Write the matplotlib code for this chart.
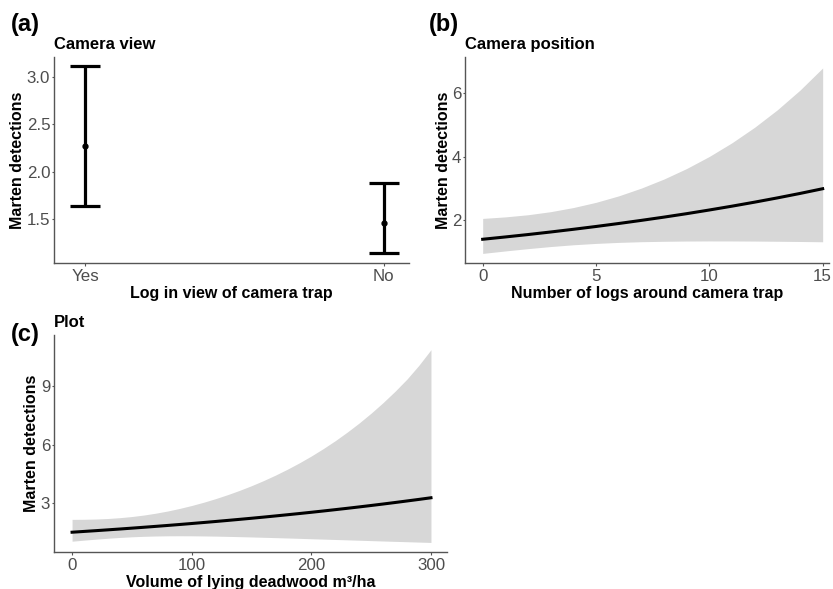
import matplotlib
matplotlib.use("Agg")
import matplotlib.pyplot as plt

plt.rcParams['font.family'] = ['Liberation Sans', 'DejaVu Sans']

# (a) Camera view
cat_labels = ["Yes", "No"]
cat_mean = [2.27, 1.465]
cat_low = [1.645, 1.142]
cat_high = [3.12, 1.878]

# (b) Camera position
logs_x = [0, 1, 2, 3, 4, 5, 6, 7, 8, 9, 10, 11, 12, 13, 14, 15]
logs_mean = [1.390, 1.463, 1.539, 1.620, 1.705, 1.794, 1.888, 1.987, 2.090, 2.199,
             2.315, 2.436, 2.563, 2.697, 2.838, 2.987]
logs_low = [0.943, 1.021, 1.094, 1.160, 1.216, 1.259, 1.291, 1.313, 1.326, 1.334,
            1.337, 1.336, 1.333, 1.327, 1.320, 1.311]
logs_high = [2.049, 2.097, 2.165, 2.262, 2.392, 2.557, 2.761, 3.007, 3.294, 3.626,
             4.007, 4.440, 4.930, 5.481, 6.103, 6.803]

# (c) Plot
dw_x = [0, 10, 20, 30, 40, 50, 60, 70, 80, 90, 100, 110, 120, 130, 140, 150,
        160, 170, 180, 190, 200, 210, 220, 230, 240, 250, 260, 270, 280, 290, 300]
dw_mean = [1.530, 1.570, 1.610, 1.652, 1.694, 1.738, 1.783, 1.829, 1.876, 1.925,
           1.975, 2.026, 2.078, 2.132, 2.187, 2.243, 2.301, 2.361, 2.422, 2.484,
           2.548, 2.614, 2.682, 2.751, 2.822, 2.895, 2.970, 3.047, 3.126, 3.206, 3.289]
dw_low = [1.071, 1.125, 1.176, 1.223, 1.263, 1.296, 1.321, 1.337, 1.347, 1.349,
          1.347, 1.340, 1.331, 1.318, 1.304, 1.288, 1.271, 1.254, 1.236, 1.217,
          1.197, 1.178, 1.159, 1.140, 1.121, 1.101, 1.082, 1.063, 1.045, 1.026, 1.008]
dw_high = [2.186, 2.190, 2.204, 2.231, 2.273, 2.331, 2.407, 2.502, 2.614, 2.746,
           2.895, 3.061, 3.245, 3.447, 3.667, 3.906, 4.165, 4.445, 4.747, 5.072,
           5.422, 5.800, 6.204, 6.641, 7.108, 7.611, 8.150, 8.728, 9.352, 10.06, 10.85]

W, H = 833, 589
fig = plt.figure(figsize=(W / 100, H / 100), dpi=100)

def ax_px(l, t, r, b):
    return fig.add_axes([l / W, 1 - b / H, (r - l) / W, (b - t) / H])

spine_col = "#555555"
tick_col = "#4D4D4D"
band_col = "#D7D7D7"

def style(ax):
    for s in ["top", "right"]:
        ax.spines[s].set_visible(False)
    for s in ["left", "bottom"]:
        ax.spines[s].set_color(spine_col)
        ax.spines[s].set_linewidth(1.0)
    ax.tick_params(colors=spine_col, labelcolor=tick_col, labelsize=12.2,
                   length=1.8, width=0.8, pad=0.9)
    ax.tick_params(axis="x", length=2.2, pad=2.2)

lab_kw = dict(fontsize=11.5, fontweight="bold", color="black")
title_kw = dict(fontsize=12, fontweight="bold", color="black", loc="left", pad=6)

# Panel (a)
axa = ax_px(54, 57, 409, 263)
style(axa)
pos = [1, 2]
yerr = [[m - l for m, l in zip(cat_mean, cat_low)], [h - m for m, h in zip(cat_mean, cat_high)]]
axa.errorbar(pos, cat_mean, yerr=yerr, fmt="o", color="black", ms=3.5,
             elinewidth=2.3, capsize=11, capthick=2.3)
axa.set_xlim(0.896, 2.084)
axa.set_ylim(1.04, 3.21)
axa.set_xticks(pos)
axa.set_xticklabels(cat_labels)
axa.set_yticks([1.5, 2.0, 2.5, 3.0])
axa.set_yticklabels(["1.5", "2.0", "2.5", "3.0"])
axa.set_xlabel("Log in view of camera trap", labelpad=1.5, **lab_kw)
axa.set_ylabel("Marten detections", labelpad=1.5, **lab_kw)
axa.set_title("Camera view", **title_kw)

# Panel (b)
axb = ax_px(465, 57, 829, 263)
style(axb)
axb.fill_between(logs_x, logs_low, logs_high, color=band_col, lw=0)
axb.plot(logs_x, logs_mean, color="black", lw=2.2)
axb.set_xlim(-0.78, 15.28)
axb.set_ylim(0.64, 7.15)
axb.set_xticks([0, 5, 10, 15])
axb.set_yticks([2, 4, 6])
axb.set_xlabel("Number of logs around camera trap", labelpad=1.5, **lab_kw)
axb.set_ylabel("Marten detections", labelpad=0.5, **lab_kw)
axb.set_title("Camera position", **title_kw)

# Panel (c)
axc = ax_px(54, 335, 447, 552)
style(axc)
axc.fill_between(dw_x, dw_low, dw_high, color=band_col, lw=0)
axc.plot(dw_x, dw_mean, color="black", lw=2.2)
axc.set_xlim(-15.1, 313.4)
axc.set_ylim(0.52, 11.6)
axc.set_xticks([0, 100, 200, 300])
axc.set_yticks([3, 6, 9])
axc.set_xlabel("Volume of lying deadwood m³/ha", labelpad=1.5, **lab_kw)
axc.set_ylabel("Marten detections", labelpad=1.5, **lab_kw)
axc.set_title("Plot", **title_kw)

# Panel letters
fig.text(11 / W, 1 - 25 / H, "(a)", fontsize=17, fontweight="bold", va="center", ha="left")
fig.text(429 / W, 1 - 25 / H, "(b)", fontsize=17, fontweight="bold", va="center", ha="left")
fig.text(11 / W, 1 - 335 / H, "(c)", fontsize=17, fontweight="bold", va="center", ha="left")

fig.savefig("out.png", dpi=100)
